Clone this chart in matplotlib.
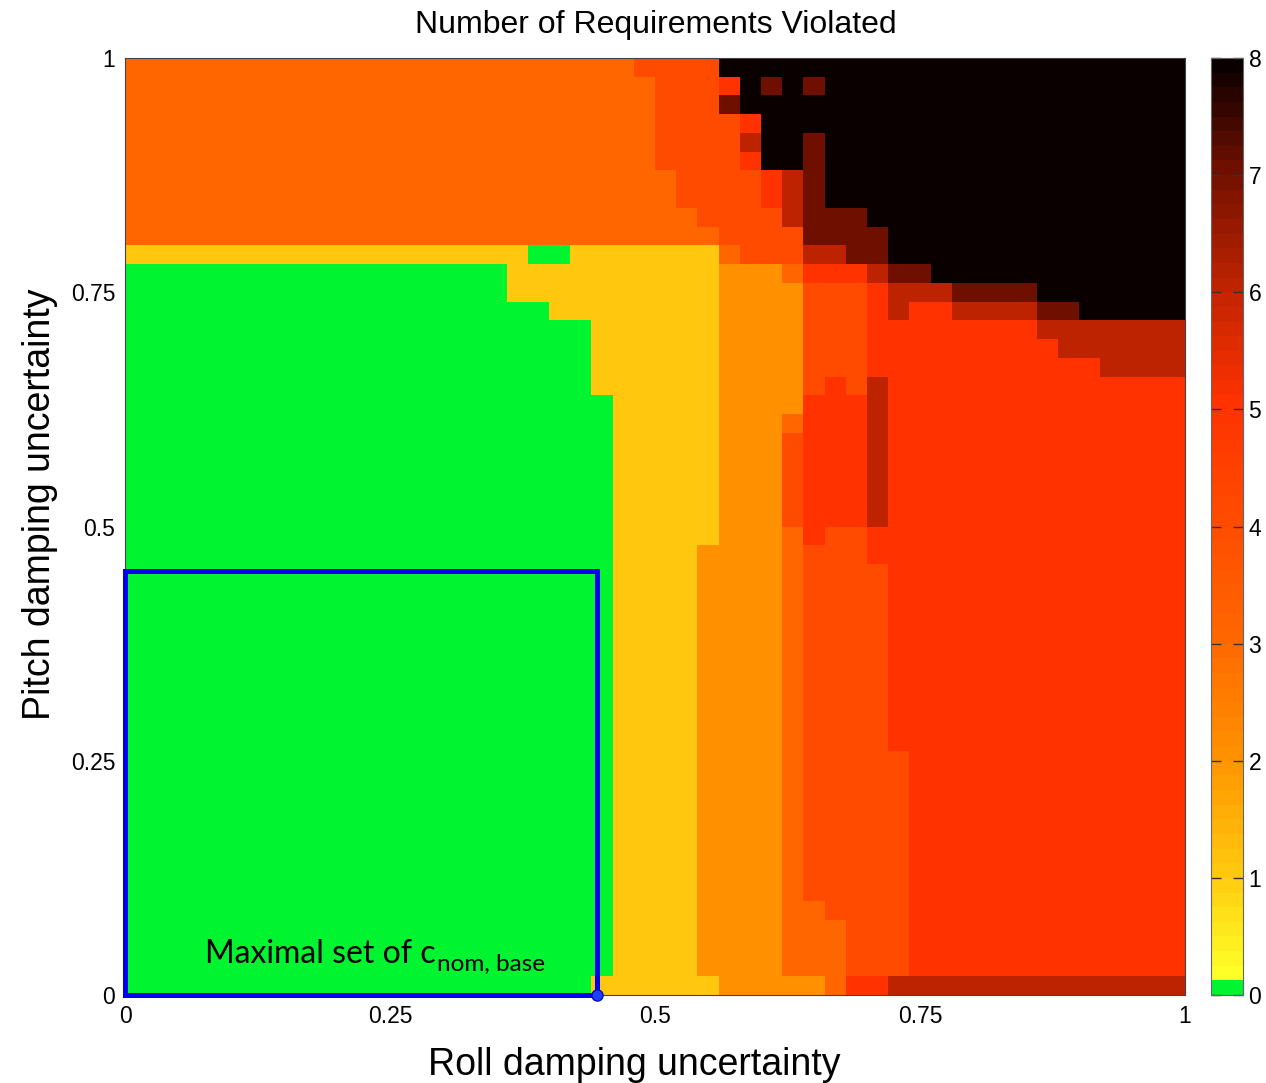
import numpy as np
import matplotlib
matplotlib.use('Agg')
import matplotlib.pyplot as plt
from matplotlib.colors import ListedColormap, Normalize
from matplotlib.transforms import offset_copy

plt.rcParams['font.family'] = 'Liberation Sans'

# requirement-violation grid, 50 x 50 cells, written as runs of (value, count),
# top row first (pitch = 1) down to the bottom row (pitch = 0)
rows_top_down = [
    [(3, 24), (4, 4), (8, 22)],
    [(3, 25), (4, 3), (5, 1), (8, 1), (7, 1), (8, 1), (7, 1), (8, 17)],
    [(3, 25), (4, 3), (7, 1), (8, 21)],
    [(3, 25), (4, 4), (5, 1), (8, 20)],
    [(3, 25), (4, 4), (6, 1), (8, 2), (7, 1), (8, 17)],
    [(3, 25), (4, 4), (5, 1), (8, 2), (7, 1), (8, 17)],
    [(3, 26), (4, 4), (5, 1), (6, 1), (7, 1), (8, 17)],
    [(3, 26), (4, 4), (5, 1), (6, 1), (7, 1), (8, 17)],
    [(3, 27), (4, 4), (6, 1), (7, 3), (8, 15)],
    [(3, 28), (4, 4), (7, 4), (8, 14)],
    [(1, 19), (0, 2), (1, 7), (3, 1), (4, 3), (6, 2), (7, 2), (8, 14)],
    [(0, 18), (1, 10), (2, 3), (3, 1), (5, 3), (6, 1), (7, 2), (8, 12)],
    [(0, 18), (1, 10), (2, 4), (4, 3), (5, 1), (6, 3), (7, 4), (8, 7)],
    [(0, 20), (1, 8), (2, 4), (4, 3), (5, 1), (6, 1), (5, 2), (6, 4), (7, 2), (8, 5)],
    [(0, 22), (1, 6), (2, 4), (4, 3), (5, 8), (6, 7)],
    [(0, 22), (1, 6), (2, 4), (4, 3), (5, 9), (6, 6)],
    [(0, 22), (1, 6), (2, 4), (4, 3), (5, 11), (6, 4)],
    [(0, 22), (1, 6), (2, 4), (4, 1), (5, 1), (4, 1), (6, 1), (5, 14)],
    [(0, 23), (1, 5), (2, 4), (5, 3), (6, 1), (5, 14)],
    [(0, 23), (1, 5), (2, 3), (3, 1), (5, 3), (6, 1), (5, 14)],
    [(0, 23), (1, 5), (2, 3), (4, 1), (5, 3), (6, 1), (5, 14)],
    [(0, 23), (1, 5), (2, 3), (4, 1), (5, 3), (6, 1), (5, 14)],
    [(0, 23), (1, 5), (2, 3), (4, 1), (5, 3), (6, 1), (5, 14)],
    [(0, 23), (1, 5), (2, 3), (4, 1), (5, 3), (6, 1), (5, 14)],
    [(0, 23), (1, 5), (2, 3), (4, 1), (5, 3), (6, 1), (5, 14)],
    [(0, 23), (1, 5), (2, 3), (3, 1), (5, 1), (4, 2), (5, 15)],
    [(0, 23), (1, 4), (2, 4), (3, 1), (4, 3), (5, 15)],
] + [[(0, 23), (1, 4), (2, 4), (3, 1), (4, 4), (5, 14)]] * 10 + [
    [(0, 23), (1, 4), (2, 4), (3, 1), (4, 5), (5, 13)]] * 8 + [
    [(0, 23), (1, 4), (2, 4), (3, 2), (4, 4), (5, 13)],
] + [[(0, 23), (1, 4), (2, 4), (3, 3), (4, 3), (5, 13)]] * 3 + [
    [(0, 22), (1, 6), (2, 5), (3, 1), (5, 2), (6, 14)],
]

x_ticks = [0, 0.25, 0.5, 0.75, 1]
x_labels = ['0', '0.25', '0.5', '0.75', '1']
y_ticks = [0, 0.25, 0.5, 0.75, 1]
y_labels = ['0', '0.25', '0.5', '0.75', '1']
cbar_ticks = [0, 1, 2, 3, 4, 5, 6, 7, 8]

box_roll = 0.445
box_pitch = 0.4525

# colormap: 64 steps, first one green, rest yellow -> black
anchor_vals = [0.125, 1, 2, 3, 4, 5, 6, 7, 7.875]
anchor_rgb = [(255, 255, 40), (255, 200, 14), (255, 145, 0), (255, 102, 0),
              (255, 75, 0), (255, 50, 0), (190, 35, 0), (110, 15, 0), (10, 0, 0)]

grid = np.array([np.repeat([v for v, n in r], [n for v, n in r]) for r in rows_top_down])
assert grid.shape == (50, 50), grid.shape
Z = np.flipud(grid)

steps = np.arange(1, 64) / 8
rgb = np.array(anchor_rgb) / 255
cols = np.column_stack([np.interp(steps, anchor_vals, rgb[:, k]) for k in range(3)])
cols = np.vstack([[0.0, 0.96, 0.19], cols])
cmap = ListedColormap(cols)
norm = Normalize(0, 8)

fig = plt.figure(figsize=(12.66, 10.83), dpi=100)
W, H = 1266, 1083
ax = fig.add_axes([125 / W, 1 - 995 / H, 1060 / W, 937 / H])
cax = fig.add_axes([1211 / W, 1 - 995 / H, 32 / W, 937 / H])

edges = np.linspace(0, 1, 51)
mesh = ax.pcolormesh(edges, edges, Z, cmap=cmap, norm=norm, shading='flat')
ax.set_xlim(0, 1)
ax.set_ylim(0, 1)

ax.set_xticks(x_ticks, x_labels)
ax.set_yticks(y_ticks, y_labels)
ax.tick_params(length=0, labelsize=16.5, pad=7)
for s in ax.spines.values():
    s.set_color('#444444')
    s.set_linewidth(0.8)

# maximal set box
ax.plot([0, box_roll, box_roll, 0, 0], [0, 0, box_pitch, box_pitch, 0],
        color='#0000f0', lw=3.6, clip_on=False, solid_joinstyle='miter', zorder=5)
ax.plot([box_roll], [0], 'o', color='#1f3fff', mec='#0010c0', ms=8, clip_on=False, zorder=6)
main_txt = ax.text(0.0755, 0.034, 'Maximal set of c', family='Lato', fontsize=23,
                   ha='left', va='baseline', color='black')
fig.canvas.draw()
bb = main_txt.get_window_extent()
x_end = ax.transData.inverted().transform((bb.x1, bb.y0))[0]
sub_tr = offset_copy(ax.transData, fig=fig, x=1, y=-8, units='dots')
ax.text(x_end, 0.034, 'nom, base', family='Lato', fontsize=17.5, ha='left',
        va='baseline', color='black', transform=sub_tr)

cb = fig.colorbar(mesh, cax=cax, ticks=cbar_ticks)
cb.outline.set_edgecolor('#666666')
cb.outline.set_linewidth(0.8)
cax.tick_params(direction='in', left=True, right=True, length=7, width=1,
                color='#333333', labelsize=16.5, pad=4)

fig.text(656 / W, 1 - 33 / H, 'Number of Requirements Violated', fontsize=23,
         ha='center', va='baseline')
fig.text(634 / W, 1 - 1075 / H, 'Roll damping uncertainty', fontsize=27,
         ha='center', va='baseline')
fig.text(50 / W, 1 - 504 / H, 'Pitch damping uncertainty', fontsize=27,
         ha='center', va='baseline', rotation=90, rotation_mode='anchor')

fig.savefig('out.png', dpi=100)
